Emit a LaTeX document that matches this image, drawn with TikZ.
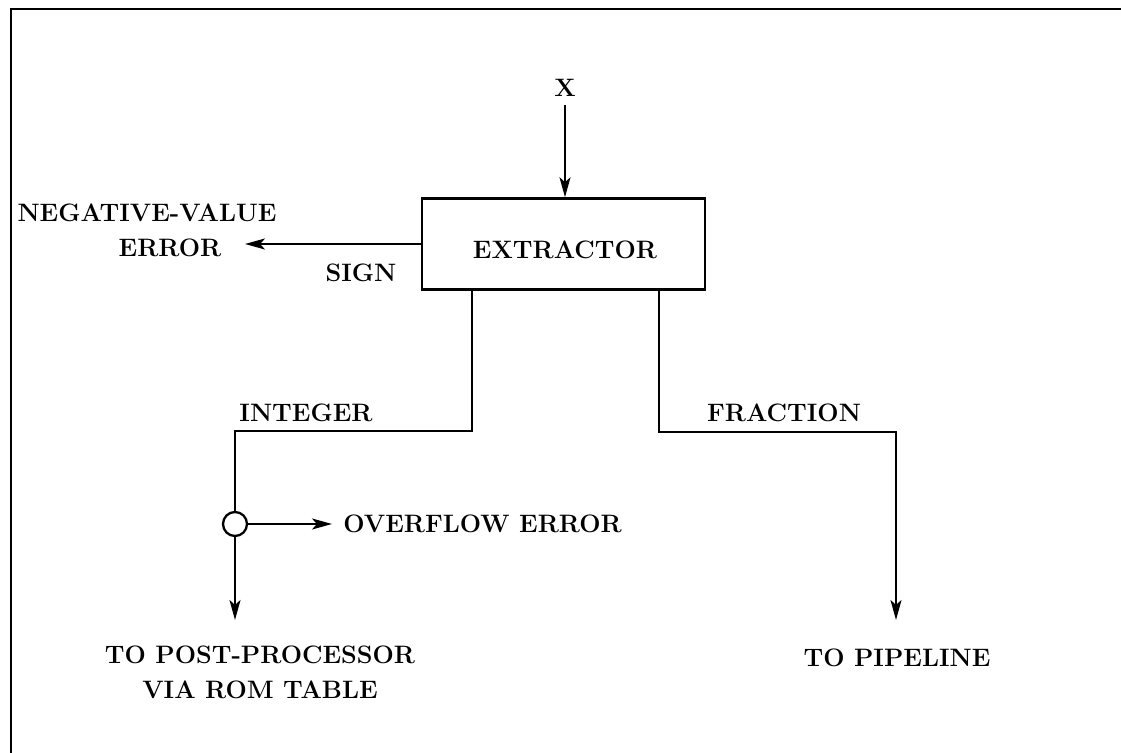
\documentclass[tikz,border=0pt]{standalone}
\usetikzlibrary{arrows.meta}
\begin{document}
\begin{tikzpicture}[x=0.5pt,y=-0.5pt,
  lbl/.style={font=\fontsize{12.6}{17.5}\selectfont\bfseries, inner sep=0pt},
  wire/.style={line width=1.15pt},
  arr/.style={wire,-{Stealth[length=10pt,width=5.5pt,inset=2.5pt]}},
  blockbox/.style={draw, line width=1.25pt, minimum width=141.5pt, minimum height=45.5pt, inner sep=0pt},
  junc/.style={draw, circle, line width=1.15pt, minimum size=12pt, inner sep=0pt}]
\useasboundingbox (0,0) rectangle (1121,753);
% frame
\draw[line width=1.3pt] (11,753) -- (11,9) -- (1121,9);
% nodes
\node[lbl] (x) at (565,88) {X};
\node[blockbox] (ext) at (563.5,244) {};
\node[lbl] (extl) at (565,250) {EXTRACTOR};
\node[lbl] (neg) at (147,213) {NEGATIVE-VALUE};
\node[lbl] (err) at (170,248) {ERROR};
\node[lbl] (sign) at (361,273) {SIGN};
\node[lbl] (int) at (306,413) {INTEGER};
\node[lbl] (frac) at (784,413) {FRACTION};
\node[junc] (ov) at (235,524) {};
\node[lbl, anchor=west] (ovl) at (343,524) {OVERFLOW ERROR};
\node[lbl, align=center] (post) at (260,672) {TO POST-PROCESSOR\\VIA ROM TABLE};
\node[lbl] (pipe) at (897,658) {TO PIPELINE};
% coordinates
\coordinate (negtip) at (245,244);
\coordinate (ib) at (472,289);
\coordinate (ic1) at (472,431);
\coordinate (ic2) at (235,431);
\coordinate (itip) at (235,620);
\coordinate (otip) at (332,524);
\coordinate (fb) at (659,289);
\coordinate (fc1) at (659,432);
\coordinate (fc2) at (896,432);
\coordinate (ftip) at (896,620);
\coordinate (xtop) at (565,105);
% connectors
\draw[arr] (xtop) -- (x |- ext.north);
\draw[arr] (ext.west |- negtip) -- (negtip);
\draw[wire] (ib) -- (ic1) -- (ic2) -- (ov.north);
\draw[arr] (ov.south) -- (itip);
\draw[arr] (ov.east) -- (otip);
\draw[arr] (fb) -- (fc1) -- (fc2) -- (ftip);
\end{tikzpicture}
\end{document}
